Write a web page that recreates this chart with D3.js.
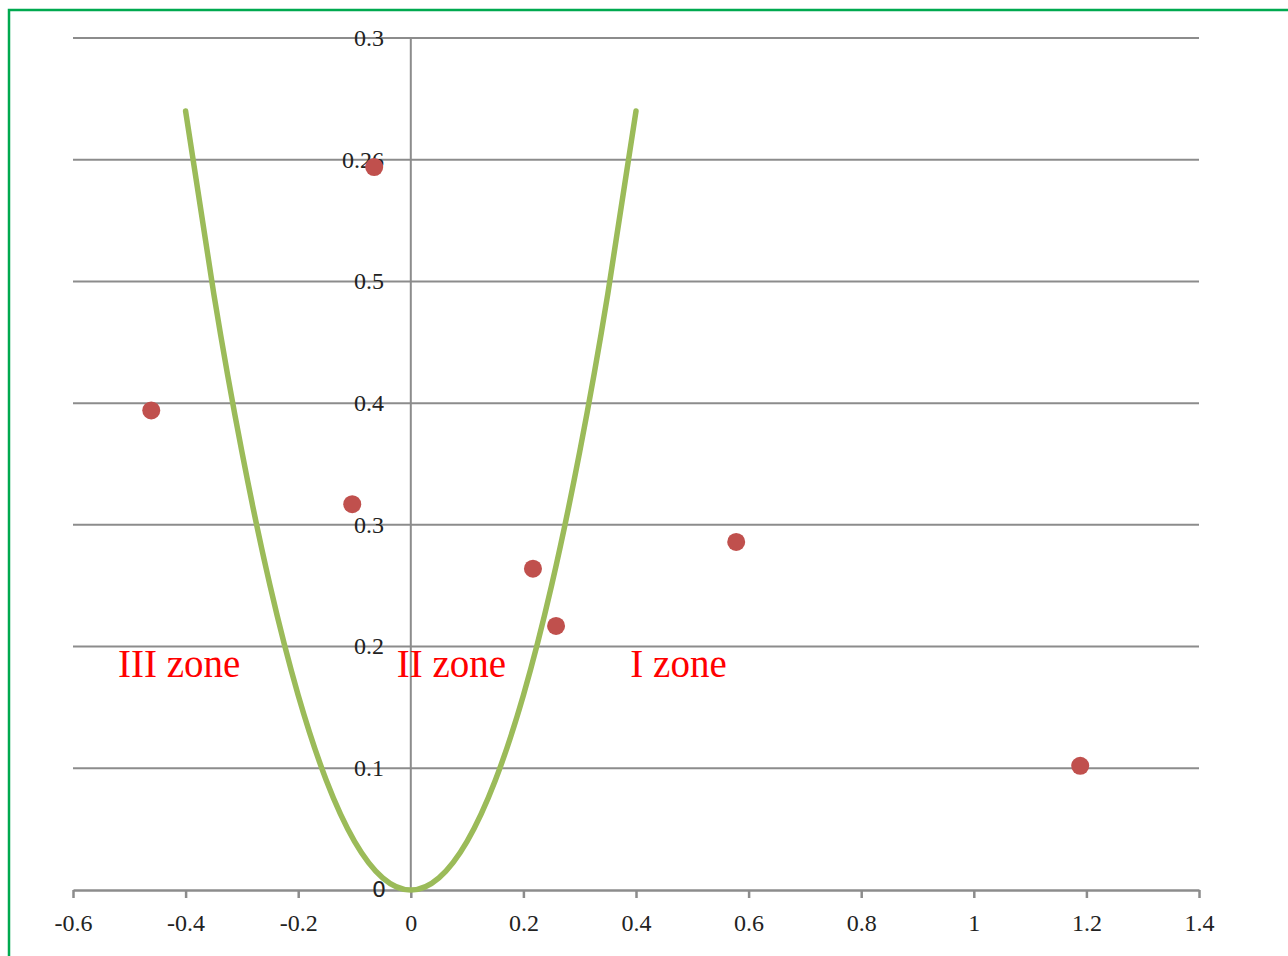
<!DOCTYPE html>
<html><head><meta charset="utf-8">
<script src="https://cdn.jsdelivr.net/npm/d3@7"></script>
<style>html,body{margin:0;padding:0;background:#fff;}svg{display:block;}</style>
</head><body>
<svg id="c" width="1288" height="956"></svg>
<script>
// data
const xTicks = [-0.6, -0.4, -0.2, 0, 0.2, 0.4, 0.6, 0.8, 1, 1.2, 1.4];
const xTickLabels = ["-0.6","-0.4","-0.2","0","0.2","0.4","0.6","0.8","1","1.2","1.4"];
const yTicks = [0, 0.1, 0.2, 0.3, 0.4, 0.5, 0.6, 0.7];
const yTickLabels = ["0","0.1","0.2","0.3","0.4","0.5","0.26","0.3"];
const pointX = [-0.461, -0.065, -0.104, 0.217, 0.258, 0.578, 1.189];
const pointY = [0.394, 0.594, 0.317, 0.264, 0.217, 0.286, 0.102];
const curveX = [-0.4,-0.35,-0.3,-0.25,-0.2,-0.15,-0.1,-0.05,0,0.05,0.1,0.15,0.2,0.25,0.3,0.35,0.4];
const curveY = [0.64,0.49,0.36,0.25,0.16,0.09,0.04,0.01,0,0.01,0.04,0.09,0.16,0.25,0.36,0.49,0.64];
const zoneLabels = ["III zone","II zone","I zone"];
const zoneX = [-0.52, -0.025, 0.39];
const zoneY = [0.175, 0.175, 0.175];

const svg = d3.select("#c");
const x = d3.scaleLinear().domain([-0.6, 1.4]).range([73, 1199]);
const y = d3.scaleLinear().domain([0, 0.7]).range([890, 38]);
const serif = "'Liberation Serif','Times New Roman',serif";

// green frame (left and top)
svg.append("path").attr("d","M9,956 V10 H1288").attr("fill","none")
  .attr("stroke","#00a94f").attr("stroke-width",2.5);

// horizontal gridlines
svg.append("g").selectAll("line").data(yTicks.slice(1)).join("line")
  .attr("x1", x(-0.6)).attr("x2", x(1.4))
  .attr("y1", d=>y(d)).attr("y2", d=>y(d))
  .attr("stroke","#8c8c8c").attr("stroke-width",2);

// y axis (vertical at x=0)
svg.append("line").attr("x1", x(0)).attr("x2", x(0)).attr("y1", y(0.7)).attr("y2", y(0))
  .attr("stroke","#8c8c8c").attr("stroke-width",2);

// x axis
const xAxis = d3.axisBottom(x).tickValues(xTicks).tickSize(8).tickSizeOuter(0)
  .tickFormat((d,i)=>xTickLabels[i]);
const gx = svg.append("g").attr("transform",`translate(0,${y(0)})`).call(xAxis);
gx.select(".domain").attr("stroke","#8c8c8c").attr("stroke-width",2.5);
gx.selectAll(".tick line").attr("stroke","#8c8c8c").attr("stroke-width",2.5);
gx.selectAll(".tick text").attr("font-family",serif).attr("font-size",24)
  .attr("fill","#222").attr("dy","0.35em").attr("y",33);

// y tick labels
svg.append("g").selectAll("text").data(yTicks).join("text")
  .attr("x", (d,i)=> i===0 ? 386 : 384)
  .attr("y", d=>y(d))
  .attr("dy", (d,i)=> i===0 ? "0.3em" : "0.33em")
  .attr("text-anchor","end")
  .attr("font-family", (d,i)=> i===0 ? "'DejaVu Sans',sans-serif" : serif)
  .attr("font-size", (d,i)=> i===0 ? 22 : 24)
  .attr("fill","#222")
  .text((d,i)=>yTickLabels[i]);

// curve
const line = d3.line().x(d=>x(d[0])).y(d=>y(d[1])).curve(d3.curveNatural);
svg.append("path").datum(curveX.map((v,i)=>[v,curveY[i]]))
  .attr("d", line).attr("fill","none").attr("stroke","#9bbb59")
  .attr("stroke-width",5.5).attr("stroke-linecap","round");

// points
svg.append("g").selectAll("circle").data(pointX.map((v,i)=>[v,pointY[i]])).join("circle")
  .attr("cx", d=>x(d[0])).attr("cy", d=>y(d[1])).attr("r",9)
  .attr("fill","#c0504d");

// zone labels
svg.append("g").selectAll("text").data(zoneLabels).join("text")
  .attr("x",(d,i)=>x(zoneX[i])).attr("y",(d,i)=>y(zoneY[i]))
  .attr("font-family",serif).attr("font-size",39).attr("fill","#ff0000")
  .text(d=>d);
</script>
</body></html>
